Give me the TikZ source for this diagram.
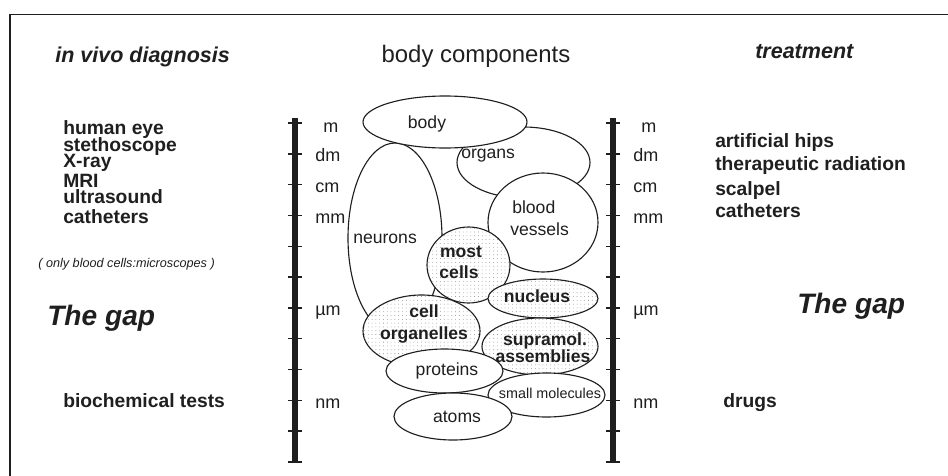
\documentclass[tikz,border=0pt]{standalone}
\usepackage{fontspec}
\setmainfont{Liberation Sans}
\usetikzlibrary{patterns.meta}
\definecolor{ink}{gray}{0.12}
\definecolor{speck}{gray}{0.50}

\begin{document}
\begin{tikzpicture}[
  x=0.025cm,y=-0.025cm,
  head/.style={font=\fontsize{15.3}{17}\selectfont\bfseries\itshape,anchor=base west,inner sep=0pt,ink},
  gaptxt/.style={font=\fontsize{20}{22}\selectfont\bfseries\itshape,anchor=base west,inner sep=0pt,ink},
  item/.style={font=\fontsize{13.7}{15}\selectfont\bfseries,anchor=base west,inner sep=0pt,ink},
  unit/.style={font=\fontsize{12.8}{14}\selectfont,anchor=base west,inner sep=0pt,ink},
  lbl/.style={font=\fontsize{12.5}{14}\selectfont,anchor=base,inner sep=0pt,ink},
  blbl/.style={font=\fontsize{12.5}{14}\selectfont\bfseries,anchor=base,inner sep=0pt,ink},
  blob/.style={draw=ink,line width=0.8pt,fill=white},
  speckled/.style={blob,postaction={pattern={Dots[distance=2.7pt,radius=0.3pt]},pattern color=speck}},
  bar/.style={line width=4pt,ink},
  tickmark/.style={line width=1pt,ink},
]
\useasboundingbox (0,0) rectangle (948,475);

% ---- frame (runs off the page right and below) ----
\draw[ink,line width=1.1pt] (10,490) -- (10,14.5) -- (960,14.5);

% ---- headings ----
\node[head] (diag) at (55,62) {in vivo diagnosis};
\node[font=\fontsize{17}{19}\selectfont,anchor=base,inner sep=0pt,ink] (comp) at (476,62) {body components};
\node[head] (treat) at (755,58) {treatment};

% ---- the two size scales ----
\foreach \bx/\s in {295/L,613/R}{
  \draw[bar] (\bx,118) -- (\bx,463);
  \foreach \k in {0,...,11}{
    \draw[tickmark] ({\bx-7},{123+30.8*\k}) -- ({\bx+7},{123+30.8*\k});
  }
  \node[unit] (\s-m) at ({\bx+28},132) {m};
  \foreach \k/\u in {1/dm,2/cm,3/mm,6/µm,9/nm}{
    \node[unit] (\s-\u) at ({\bx+20},{131+30.8*\k}) {\u};
  }
}

% ---- in vivo diagnosis ----
\node[item] (eye)   at (63,134) {human eye};
\node[item] (steth) at (63,151.5) {stethoscope};
\node[item] (xray)  at (63,167.5) {X-ray};
\node[item] (mri)   at (63,187) {MRI};
\node[item] (sono)  at (63,203.5) {ultrasound};
\node[item] (cathL) at (63,223) {catheters};
\node[font=\fontsize{9}{10}\selectfont\itshape,anchor=base west,inner sep=0pt,ink] (micro)
  at (38,267) {( only blood cells:microscopes )};
\node[gaptxt] (gapL) at (47,325) {The gap};
\node[item] (biochem) at (63,407) {biochemical tests};

% ---- treatment ----
\node[item] (hips)  at (715,147) {artificial hips};
\node[item] (rad)   at (715,170) {therapeutic radiation};
\node[item] (scal)  at (715,195) {scalpel};
\node[item] (cathR) at (715,217) {catheters};
\node[gaptxt] (gapR) at (797,313) {The gap};
\node[item] (drugs) at (723,407) {drugs};

% ---- body components, largest to smallest ----
\path[blob] (395,238) ellipse [x radius=47,y radius=95];
\path[blob] (523.5,162.5) ellipse [x radius=66.5,y radius=35.5];
\path[blob] (445,122) ellipse [x radius=82,y radius=26];
\path[blob] (543,222.5) ellipse [x radius=55,y radius=49.5];
\path[speckled] (468.5,265) ellipse [x radius=41.5,y radius=38];
\path[speckled] (543,298.5) ellipse [x radius=55,y radius=19.5];
\path[speckled] (421.5,331) ellipse [x radius=58.5,y radius=36];
\path[speckled] (540,346.5) ellipse [x radius=58,y radius=28.5];
\path[blob] (546.5,395) ellipse [x radius=58.5,y radius=22];
\path[blob] (444.5,371) ellipse [x radius=58.5,y radius=22];
\path[blob] (453,416.5) ellipse [x radius=59,y radius=23.5];

\node[lbl] (body) at (427,128) {body};
\node[lbl,anchor=base west] (organs) at (461,158) {organs};
\node[lbl,anchor=base west] (blood) at (512,213) {blood};
\node[lbl,anchor=base west] (vessels) at (510,235) {vessels};
\node[lbl,anchor=base west] (neurons) at (353,243) {neurons};
\node[blbl] (most) at (461,257) {most};
\node[blbl] (cells) at (459,278) {cells};
\node[blbl] (nucleus) at (537,302) {nucleus};
\node[blbl] (cell) at (424,317) {cell};
\node[blbl] (organelles) at (424,339) {organelles};
\node[blbl] (supramol) at (545,345) {supramol.};
\node[blbl] (assemblies) at (543,362) {assemblies};
\node[lbl] (proteins) at (447,375) {proteins};
\node[lbl,font=\fontsize{10.2}{12}\selectfont] (smallmol) at (550,398) {small molecules};
\node[lbl] (atoms) at (457,422) {atoms};

\end{tikzpicture}
\end{document}
